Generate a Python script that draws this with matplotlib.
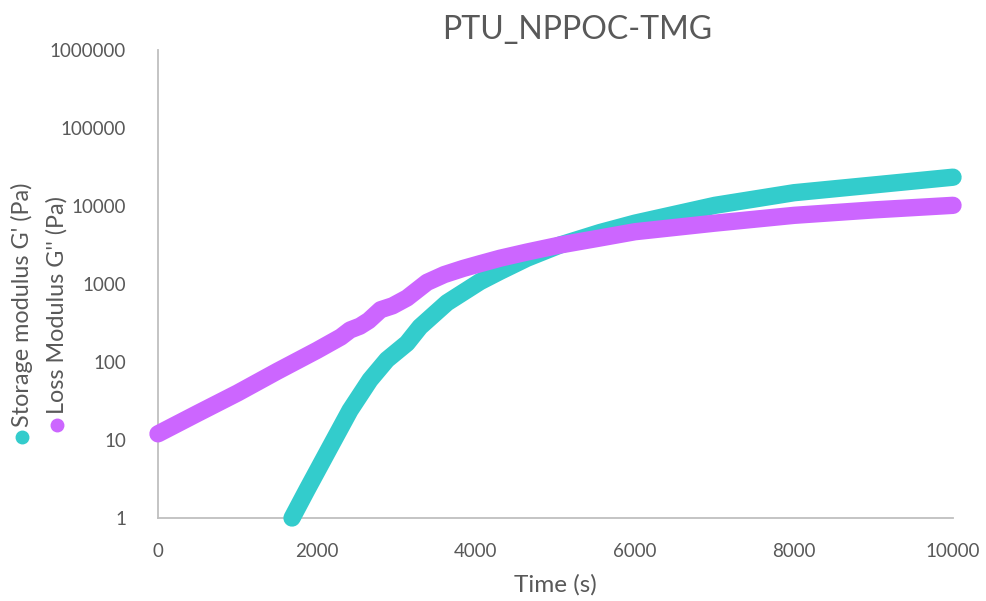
import matplotlib
matplotlib.use("Agg")
import matplotlib.pyplot as plt
from matplotlib.lines import Line2D

plt.rcParams['font.family'] = ['Lato', 'DejaVu Sans']

title = "PTU_NPPOC-TMG"
x_label = "Time (s)"
storage_label = "Storage modulus G' (Pa)"
loss_label = "Loss Modulus G'' (Pa)"

# Storage modulus G' (teal)
t_storage = [1686, 1874, 2164, 2415, 2667, 2880, 3132, 3296, 3635, 4050, 4302,
             4642, 5057, 5560, 6000, 7006, 8000, 9000, 10000]
g_storage = [1.0, 2.3, 8.1, 24, 59, 107, 174, 282, 575, 1070, 1450,
             2140, 3160, 4570, 6030, 10200, 14800, 18600, 23400]

# Loss modulus G'' (purple)
t_loss = [0, 500, 1000, 1500, 2000, 2300, 2415, 2540, 2650, 2800, 2950, 3132,
          3384, 3600, 3836, 4050, 4302, 4642, 5057, 5560, 6000, 7006, 8000,
          9000, 10000]
g_loss = [12, 22, 40, 76, 141, 209, 257, 288, 339, 468, 525, 661,
          1050, 1320, 1580, 1820, 2140, 2570, 3160, 3890, 4680, 6030, 7590,
          8910, 10200]

x_ticks = [0, 2000, 4000, 6000, 8000, 10000]
y_ticks = [1, 10, 100, 1000, 10000, 100000, 1000000]
y_tick_labels = ["1", "10", "100", "1000", "10000", "100000", "1000000"]

teal = "#33CCCC"
purple = "#CC66FF"
grey_text = "#595959"
axis_grey = "#BFBFBF"

fig = plt.figure(figsize=(9.87, 6.01), dpi=100)
ax = fig.add_axes([158/987, 1-518/601, (953-158)/987, (518-50)/601])

lw = 12.5
ax.plot(t_storage, g_storage, color=teal, lw=lw, solid_capstyle='round',
        solid_joinstyle='round', clip_on=False, zorder=3)
ax.plot(t_loss, g_loss, color=purple, lw=lw, solid_capstyle='round',
        solid_joinstyle='round', clip_on=False, zorder=4)

ax.set_yscale('log')
ax.set_xlim(0, 10000)
ax.set_ylim(1, 1000000)
ax.set_xticks(x_ticks)
ax.set_xticklabels([str(v) for v in x_ticks])
ax.set_yticks(y_ticks)
ax.set_yticklabels(y_tick_labels)
ax.minorticks_off()
ax.tick_params(axis='both', length=0, labelsize=13.5, colors=grey_text)
ax.tick_params(axis='y', pad=23)
ax.tick_params(axis='x', pad=18)

for s in ['top', 'right']:
    ax.spines[s].set_visible(False)
for s in ['left', 'bottom']:
    ax.spines[s].set_color(axis_grey)
    ax.spines[s].set_linewidth(1.3)

ax.set_xlabel(x_label, fontsize=17.5, color=grey_text, labelpad=10)
fig.text(577/987, 1-30/601, title, fontsize=23, color=grey_text,
         ha='center', va='center')

# vertical legend on the left
fig.add_artist(Line2D([22/987], [1-437/601], marker='o', markersize=9,
                      color=teal, linestyle='none'))
fig.add_artist(Line2D([57/987], [1-425/601], marker='o', markersize=9,
                      color=purple, linestyle='none'))
fig.text(22/987, 1-427/601, storage_label, rotation=90, fontsize=16.8,
         color=grey_text, ha='center', va='bottom')
fig.text(57/987, 1-414/601, loss_label, rotation=90, fontsize=16.8,
         color=grey_text, ha='center', va='bottom')

fig.savefig("out.png", dpi=100, facecolor='white')
